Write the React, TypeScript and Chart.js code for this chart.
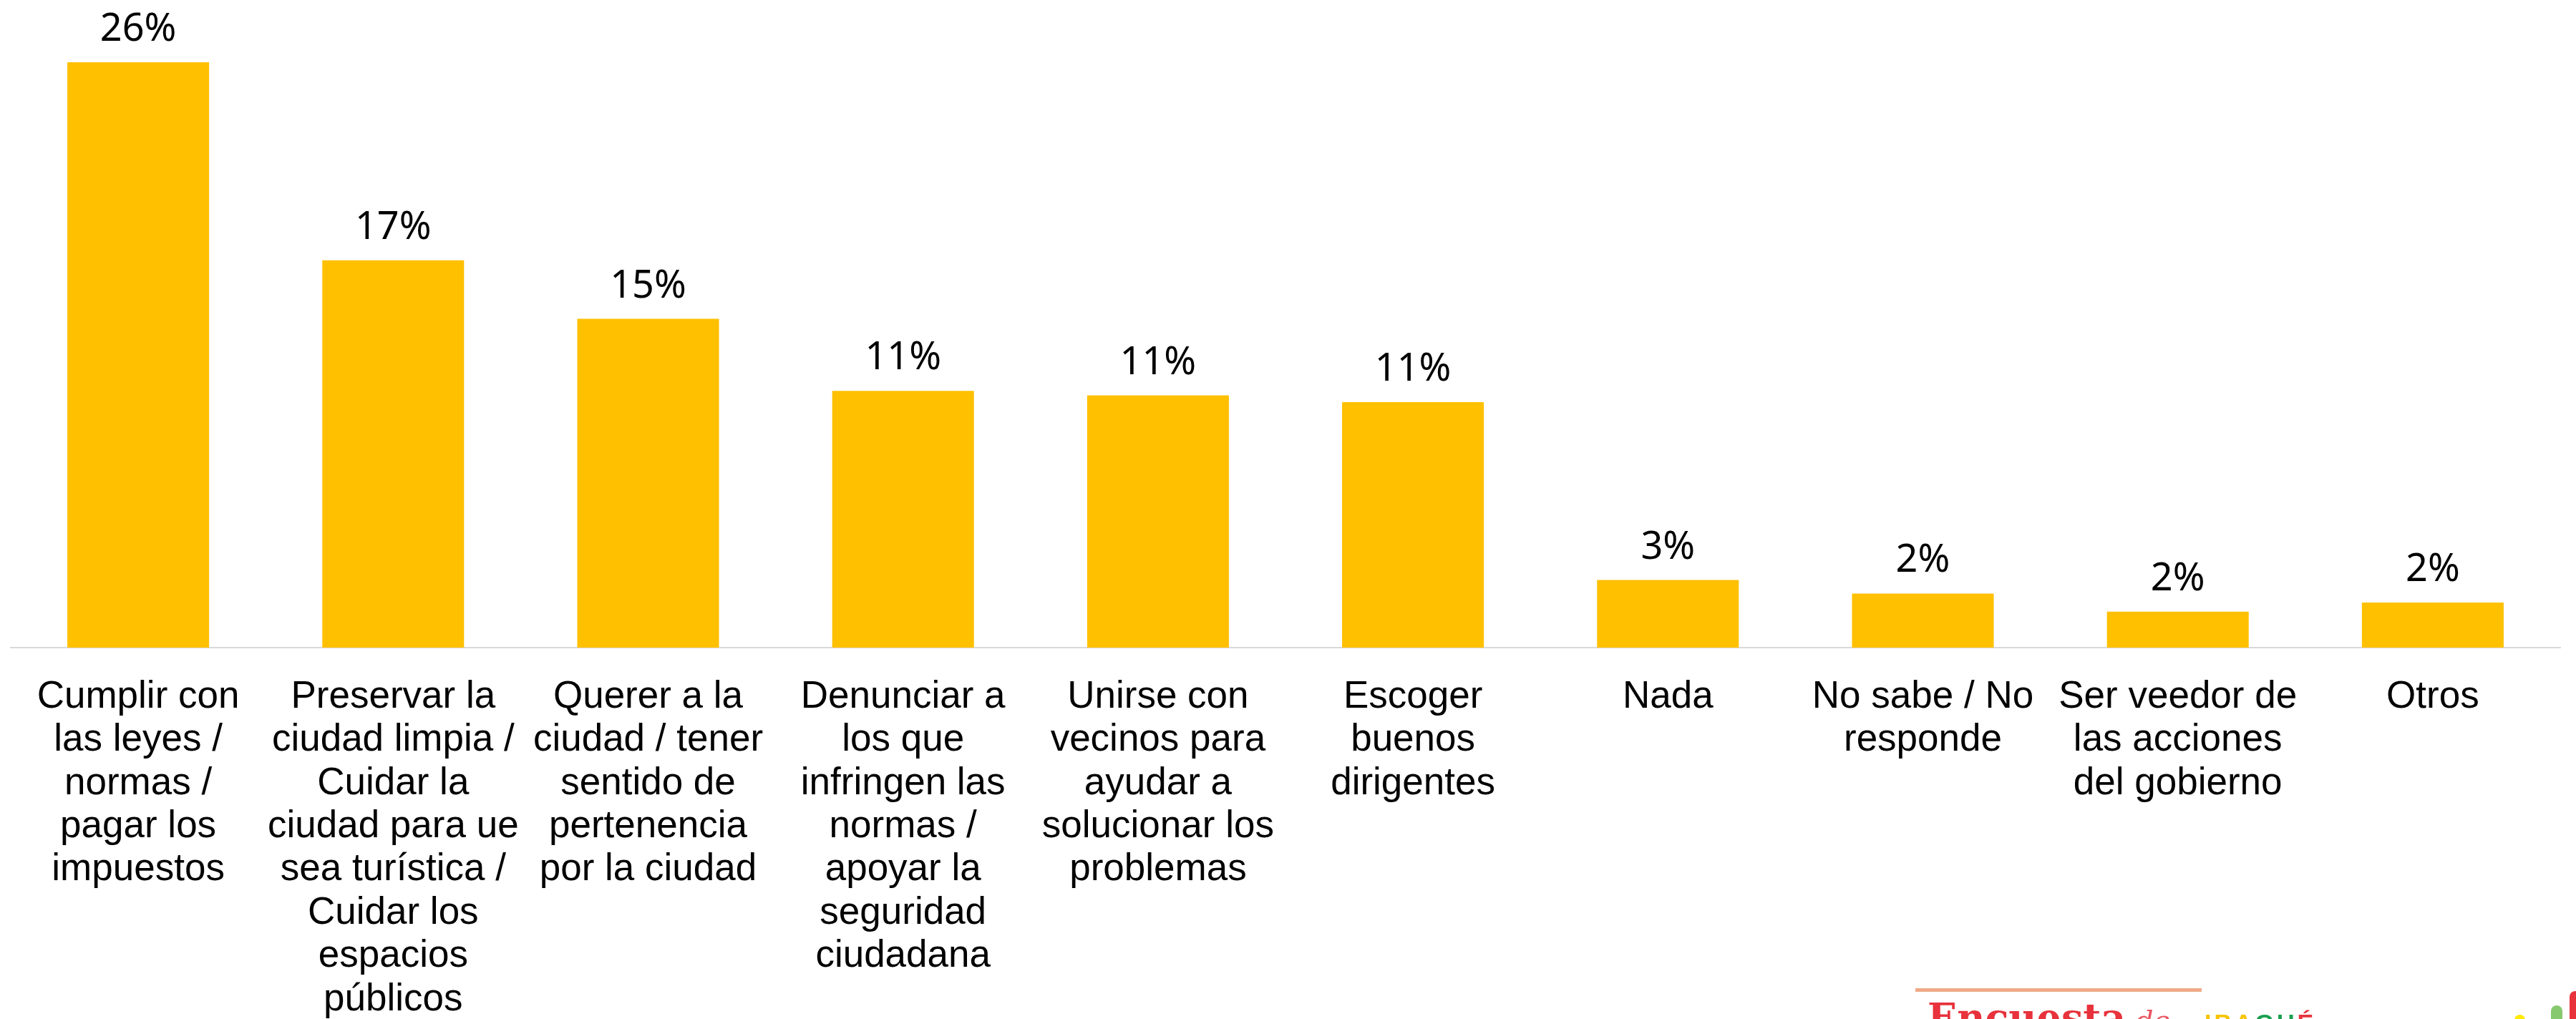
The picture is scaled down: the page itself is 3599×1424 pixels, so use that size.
import React, { useEffect, useRef } from "react";
import { Chart, registerables } from "chart.js";

Chart.register(...registerables);

const categories: string[][] = [
  ["Cumplir con", "las leyes /", "normas /", "pagar los", "impuestos"],
  ["Preservar la", "ciudad limpia /", "Cuidar la", "ciudad para ue", "sea turística /", "Cuidar los", "espacios", "públicos"],
  ["Querer a la", "ciudad / tener", "sentido de", "pertenencia", "por la ciudad"],
  ["Denunciar a", "los que", "infringen las", "normas /", "apoyar la", "seguridad", "ciudadana"],
  ["Unirse con", "vecinos para", "ayudar a", "solucionar los", "problemas"],
  ["Escoger", "buenos", "dirigentes"],
  ["Nada"],
  ["No sabe / No", "responde"],
  ["Ser veedor de", "las acciones", "del gobierno"],
  ["Otros"],
];

const values: number[] = [26.0, 17.2, 14.6, 11.4, 11.2, 10.9, 3.0, 2.4, 1.6, 2.0];
const valueLabels: string[] = ["26%", "17%", "15%", "11%", "11%", "11%", "3%", "2%", "2%", "2%"];

const BAR_COLOR = "#FFC000";

const dataLabelPlugin = {
  id: "dataLabelPlugin",
  afterDatasetsDraw(chart: any) {
    const ctx = chart.ctx;
    const meta = chart.getDatasetMeta(0);
    ctx.save();
    ctx.font = '54px "Noto Sans", sans-serif';
    ctx.fillStyle = "#000000";
    ctx.textAlign = "center";
    ctx.textBaseline = "alphabetic";
    meta.data.forEach((el: any, i: number) => {
      ctx.fillText(valueLabels[i], el.x, el.y - 30);
    });
    ctx.restore();
  },
};

const logoPlugin = {
  id: "logoPlugin",
  afterDraw(chart: any) {
    const ctx = chart.ctx;
    ctx.save();
    // separator line
    ctx.fillStyle = "#EFAA85";
    ctx.fillRect(2676, 1381, 400, 5);
    // "Encuesta"
    ctx.fillStyle = "#E8323C";
    ctx.font = 'bold 54px "DejaVu Serif", serif';
    ctx.textAlign = "left";
    ctx.textBaseline = "alphabetic";
    ctx.fillText("Encuesta", 2693, 1441);
    // "de"
    ctx.fillStyle = "#EA5560";
    ctx.font = 'italic 40px "DejaVu Serif", serif';
    ctx.fillText("de", 2983, 1440);
    // "IBAGUÉ"
    const letters = ["I", "B", "A", "G", "U", "É"];
    const colors = ["#F5C400", "#F5C400", "#F5C400", "#1AA050", "#1AA050", "#E8323C"];
    ctx.font = 'bold 34px "Liberation Sans", sans-serif';
    let x = 3080;
    letters.forEach((l, i) => {
      ctx.fillStyle = colors[i];
      ctx.fillText(l, x, 1441);
      x += ctx.measureText(l).width + 4;
    });
    // small icon bars
    const drawBar = (bx: number, by: number, w: number, color: string) => {
      ctx.fillStyle = color;
      ctx.beginPath();
      (ctx as any).roundRect(bx, by, w, 80, w / 2);
      ctx.fill();
    };
    drawBar(3513, 1418, 15, "#FFEA00");
    drawBar(3564, 1405, 16, "#86C96E");
    drawBar(3590, 1385, 16, "#E8323C");
    ctx.restore();
  },
};

export default function App() {
  const canvasRef = useRef<HTMLCanvasElement | null>(null);

  useEffect(() => {
    if (!canvasRef.current) return;
    const chart = new Chart(canvasRef.current, {
      type: "bar",
      data: {
        labels: categories,
        datasets: [
          {
            data: values,
            backgroundColor: BAR_COLOR,
            borderWidth: 0,
            categoryPercentage: 1,
            barPercentage: 0.556,
          },
        ],
      },
      options: {
        responsive: false,
        animation: false,
        layout: { padding: { left: 15, right: 22, top: 24, bottom: 0 } },
        plugins: {
          legend: { display: false },
          tooltip: { enabled: false },
        },
        scales: {
          x: {
            grid: { display: false, drawTicks: false },
            border: { display: true, color: "#D9D9D9", width: 2 },
            ticks: {
              color: "#000000",
              font: { family: '"Liberation Sans", Arial, sans-serif', size: 53, lineHeight: 1.14 },
              padding: 39,
              autoSkip: false,
              maxRotation: 0,
              minRotation: 0,
            },
            afterFit: (scale: any) => {
              scale.height = 519;
            },
          },
          y: {
            display: false,
            min: 0,
            max: 28,
          },
        },
      },
      plugins: [dataLabelPlugin, logoPlugin],
    });
    return () => chart.destroy();
  }, []);

  return (
    <div style={{ position: "fixed", top: 0, left: 0, width: 3599, height: 1424, background: "#ffffff", overflow: "hidden" }}>
      <canvas ref={canvasRef} width={3599} height={1424} style={{ display: "block", width: 3599, height: 1424 }} />
    </div>
  );
}
